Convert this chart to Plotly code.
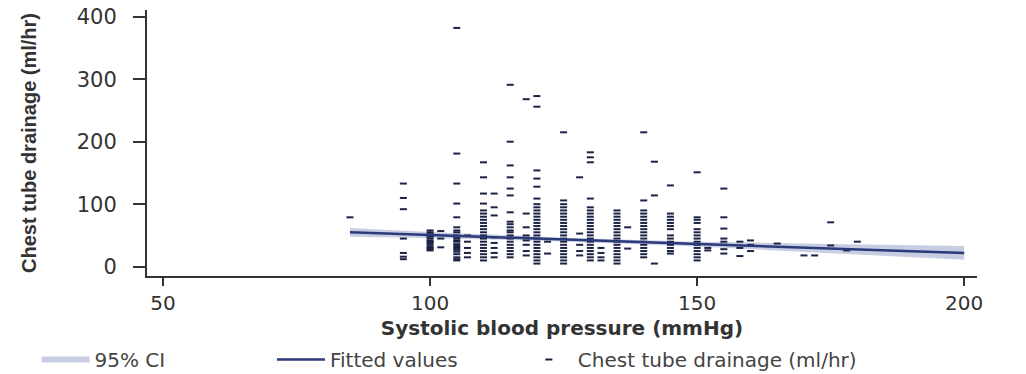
import plotly.graph_objects as go

# ---- data ----
sbp_85 = [85]
drain_85 = [79]
sbp_95 = [95] * 7
drain_95 = [133, 110, 92, 45, 22, 16, 12]
sbp_100 = [100] * 14
drain_100 = [58, 55, 52, 50, 48, 45, 42, 40, 38, 35, 32, 30, 28, 26]
sbp_102 = [102] * 3
drain_102 = [57, 45, 31]
sbp_105 = [105] * 22
drain_105 = [382, 181, 133, 101, 79, 63, 58, 55, 50, 48, 45, 42, 40, 36, 33, 30, 27, 24, 20, 15, 12, 10]
sbp_107 = [107] * 5
drain_107 = [50, 40, 30, 22, 15]
sbp_110 = [110] * 21
drain_110 = [167, 143, 117, 101, 90, 85, 80, 75, 70, 65, 60, 55, 50, 45, 40, 35, 30, 25, 20, 15, 10]
sbp_112 = [112] * 8
drain_112 = [117, 95, 82, 47, 38, 30, 22, 15]
sbp_115 = [115] * 20
drain_115 = [291, 200, 162, 143, 125, 114, 87, 72, 68, 63, 58, 55, 50, 45, 40, 35, 30, 25, 20, 15]
sbp_118 = [118] * 8
drain_118 = [268, 85, 63, 50, 42, 35, 25, 18]
sbp_120 = [120] * 26
drain_120 = [273, 256, 154, 141, 128, 109, 100, 95, 90, 85, 80, 75, 70, 65, 60, 55, 50, 45, 40, 35, 30, 25, 20, 15, 10, 5]
sbp_122 = [122] * 2
drain_122 = [40, 21]
sbp_125 = [125] * 22
drain_125 = [215, 106, 100, 95, 90, 85, 80, 75, 70, 65, 60, 55, 50, 45, 40, 35, 30, 25, 20, 15, 10, 5]
sbp_128 = [128] * 5
drain_128 = [143, 53, 35, 25, 18]
sbp_130 = [130] * 22
drain_130 = [183, 175, 167, 109, 95, 90, 85, 80, 75, 70, 65, 60, 55, 50, 45, 40, 35, 30, 25, 20, 15, 10]
sbp_132 = [132] * 4
drain_132 = [30, 22, 15, 10]
sbp_135 = [135] * 18
drain_135 = [90, 85, 80, 75, 70, 65, 60, 55, 50, 45, 40, 35, 30, 25, 20, 15, 10, 5]
sbp_137 = [137] * 2
drain_137 = [63, 29]
sbp_140 = [140] * 18
drain_140 = [215, 106, 90, 85, 80, 75, 70, 65, 60, 55, 50, 45, 40, 35, 30, 25, 20, 15]
sbp_142 = [142] * 3
drain_142 = [168, 114, 5]
sbp_145 = [145] * 14
drain_145 = [130, 85, 80, 75, 70, 65, 60, 50, 45, 40, 35, 30, 25, 21]
sbp_150 = [150] * 15
drain_150 = [151, 79, 75, 70, 60, 55, 50, 45, 40, 35, 30, 25, 20, 15, 10]
sbp_152 = [152] * 2
drain_152 = [30, 26]
sbp_155 = [155] * 8
drain_155 = [125, 79, 61, 45, 40, 35, 28, 21]
sbp_158 = [158] * 3
drain_158 = [40, 30, 17]
sbp_160 = [160] * 3
drain_160 = [42, 35, 25]
sbp_hi = [165, 170, 172, 175, 175, 178, 180]
drain_hi = [37, 18, 18, 71, 34, 26, 40]

sbp = (sbp_85 + sbp_95 + sbp_100 + sbp_102 + sbp_105 + sbp_107 + sbp_110 + sbp_112
       + sbp_115 + sbp_118 + sbp_120 + sbp_122 + sbp_125 + sbp_128 + sbp_130 + sbp_132
       + sbp_135 + sbp_137 + sbp_140 + sbp_142 + sbp_145 + sbp_150 + sbp_152 + sbp_155
       + sbp_158 + sbp_160 + sbp_hi)
drain = (drain_85 + drain_95 + drain_100 + drain_102 + drain_105 + drain_107 + drain_110
         + drain_112 + drain_115 + drain_118 + drain_120 + drain_122 + drain_125 + drain_128
         + drain_130 + drain_132 + drain_135 + drain_137 + drain_140 + drain_142 + drain_145
         + drain_150 + drain_152 + drain_155 + drain_158 + drain_160 + drain_hi)

fit_x = [85, 200]
fit_y = [55, 22]

ci_x = [85, 100, 125, 150, 175, 200]
ci_lo = [48, 46, 40.5, 32.5, 21.5, 11]
ci_hi = [62, 55.5, 46.5, 40, 36.5, 33]

x_ticks = [50, 100, 150, 200]
y_ticks = [0, 100, 200, 300, 400]

FONT = "DejaVu Sans"
TXT = "#333333"
NB = "\u00a0"

fig = go.Figure()

fig.add_trace(go.Scatter(
    x=ci_x + ci_x[::-1], y=ci_hi + ci_lo[::-1],
    fill="toself", fillcolor="#c9cde2", mode="none",
    name="95% CI" + NB * 16, legendrank=1, hoverinfo="skip"))

fig.add_trace(go.Scatter(
    x=sbp, y=drain, mode="markers",
    marker=dict(symbol="line-ew", size=5, line=dict(width=2, color="#1b2244")),
    name="Chest tube drainage (ml/hr)", legendrank=3))

fig.add_trace(go.Scatter(
    x=fit_x, y=fit_y, mode="lines",
    line=dict(color="#2b3a7a", width=2.5),
    name="Fitted values" + NB * 9, legendrank=2))

fig.update_layout(
    width=1026, height=374,
    margin=dict(l=147, r=49, t=10, b=98, autoexpand=False),
    paper_bgcolor="white", plot_bgcolor="white",
    font=dict(family=FONT, color=TXT, size=19),
    showlegend=True,
    legend=dict(orientation="h", x=0.0356, xref="container", y=0.039, yref="container",
                yanchor="middle", xanchor="left",
                font=dict(family=FONT, size=20, color="#444444"),
                itemwidth=48, traceorder="normal"),
)

fig.update_xaxes(
    range=[47, 202.4], tickvals=x_ticks, ticks="outside", ticklen=8, tickwidth=1.5,
    tickcolor="#333333", showline=True, linecolor="#333333", linewidth=2,
    showgrid=False, zeroline=False, automargin=False, ticklabelstandoff=0,
    tickfont=dict(family=FONT, size=20, color=TXT),
    title=dict(text="<b>Systolic blood pressure (mmHg)</b>", standoff=12,
               font=dict(family=FONT, size=20, color=TXT)))

fig.update_yaxes(
    range=[-14.9, 410.7], tickvals=y_ticks, ticks="outside", ticklen=12, tickwidth=1.5,
    tickcolor="#333333", showline=True, linecolor="#333333", linewidth=2,
    showgrid=False, zeroline=False, automargin=False, ticklabelstandoff=12,
    ticklabeloverflow="allow",
    tickfont=dict(family=FONT, size=21, color=TXT),
    title=dict(text="<b>Chest tube drainage (ml/hr)</b>", standoff=35,
               font=dict(family="Liberation Sans", size=20, color=TXT)))

# remove the browser's default 8px page margin so the figure fills the window
fig.write_html("out.html", config={"displayModeBar": False},
               post_script="document.body.style.margin='0';")
